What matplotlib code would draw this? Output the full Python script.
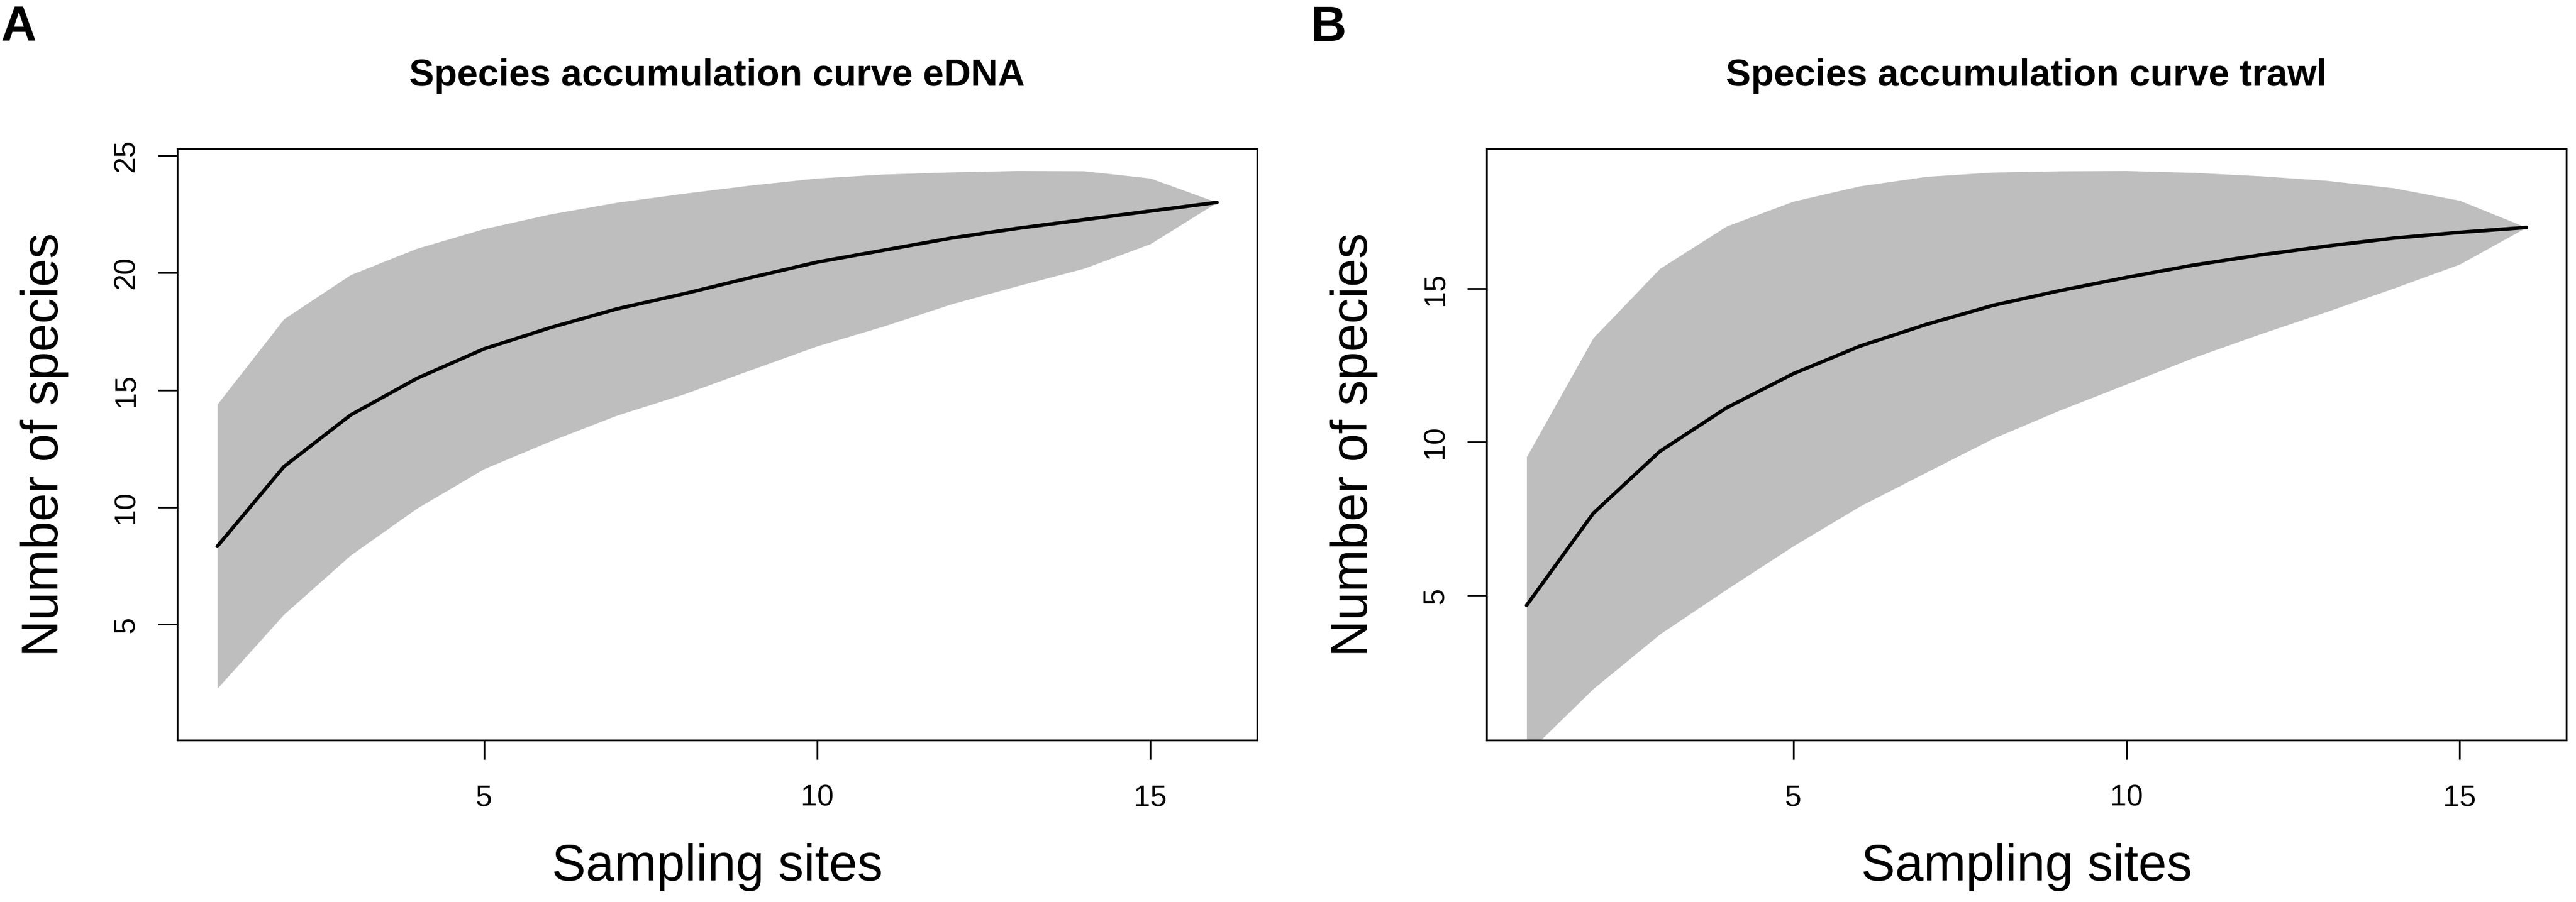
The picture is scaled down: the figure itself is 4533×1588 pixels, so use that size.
import matplotlib
matplotlib.use("Agg")
import matplotlib.pyplot as plt
import numpy as np

# ---------------- data ----------------
sites = [1, 2, 3, 4, 5, 6, 7, 8, 9, 10, 11, 12, 13, 14, 15, 16]

edna_richness = [8.33, 11.73, 13.93, 15.50, 16.75, 17.66, 18.46, 19.10,
                 19.79, 20.45, 20.96, 21.47, 21.89, 22.26, 22.63, 23.00]
edna_sd = [3.03, 3.15, 2.99, 2.77, 2.56, 2.42, 2.27, 2.14,
           1.97, 1.79, 1.62, 1.41, 1.23, 1.04, 0.70, 0.00]

trawl_richness = [4.68, 7.68, 9.70, 11.12, 12.23, 13.13, 13.84, 14.46,
                  14.94, 15.37, 15.77, 16.10, 16.39, 16.65, 16.84, 17.00]
trawl_sd = [2.42, 2.86, 2.98, 2.96, 2.81, 2.61, 2.41, 2.17,
            1.95, 1.74, 1.51, 1.29, 1.07, 0.82, 0.52, 0.00]

titles = ["Species accumulation curve eDNA", "Species accumulation curve trawl"]
panel_letters = ["A", "B"]
edna_yticks = [5, 10, 15, 20, 25]
trawl_yticks = [5, 10, 15]
xticks = [5, 10, 15]
xlabel = "Sampling sites"
ylabel = "Number of species"

# ---------------- figure ----------------
W, H = 4533, 1588
DPI = 300
plt.rcParams['font.family'] = ['Liberation Sans', 'DejaVu Sans']
fig = plt.figure(figsize=(W / DPI, H / DPI), dpi=DPI)

def fx(px):
    return px / W

def fy(py):
    return 1 - py / H

panel_offset = 2304
ax_left_px, ax_right_px = 312, 2212
ax_top_px, ax_bot_px = 262, 1303

datasets = [(edna_richness, edna_sd, edna_yticks),
            (trawl_richness, trawl_sd, trawl_yticks)]

for k, (rich, sd, yt) in enumerate(datasets):
    off = k * panel_offset
    ax = fig.add_axes([fx(ax_left_px + off), fy(ax_bot_px),
                       fx(ax_right_px - ax_left_px), (ax_bot_px - ax_top_px) / H])
    x = np.array(sites, dtype=float)
    r = np.array(rich)
    s = np.array(sd)
    upper = r + 2 * s
    lower = r - 2 * s
    ax.fill_between(x, lower, upper, color='#BEBEBE', lw=0, zorder=1)
    ax.plot(x, r, color='black', lw=1.5, zorder=2, solid_capstyle='round')

    # R-style limits (ylim from 1 to max upper, 4% expansion)
    ymax = upper.max()
    ymin = 1.0
    pad = 0.04 * (ymax - ymin)
    ax.set_ylim(ymin - pad, ymax + pad)
    xpad = 0.04 * (x.max() - x.min())
    ax.set_xlim(x.min() - xpad, x.max() + xpad)

    ax.set_xticks(xticks)
    ax.set_yticks(yt)
    ax.set_xticklabels([str(v) for v in xticks])
    ax.set_yticklabels([str(v) for v in yt])
    for sp in ax.spines.values():
        sp.set_linewidth(0.75)
    ax.tick_params(axis='both', which='major', direction='out', length=8.2,
                   width=0.75, labelsize=12.5, color='black')
    ax.tick_params(axis='x', pad=10.5)
    ax.tick_params(axis='y', pad=7.5, labelrotation=90)
    for lab in ax.get_yticklabels():
        lab.set_va('center')
        lab.set_ha('right')

    cx = (ax_left_px + ax_right_px) / 2 + off
    cy = (ax_top_px + ax_bot_px) / 2
    fig.text(fx(cx), fy(151), titles[k], ha='center', va='baseline',
             fontsize=15.8, fontweight='bold')
    fig.text(fx(cx), fy(1550), xlabel, ha='center', va='baseline', fontsize=21.5)
    fig.text(fx(102 + off), fy(cy), ylabel, rotation=90, rotation_mode='anchor',
             ha='center', va='baseline', fontsize=21.5)
    fig.text(fx(2 + off), fy(72), panel_letters[k], ha='left', va='baseline',
             fontsize=20.8, fontweight='bold')

fig.savefig("out.png", dpi=DPI, facecolor='white')
